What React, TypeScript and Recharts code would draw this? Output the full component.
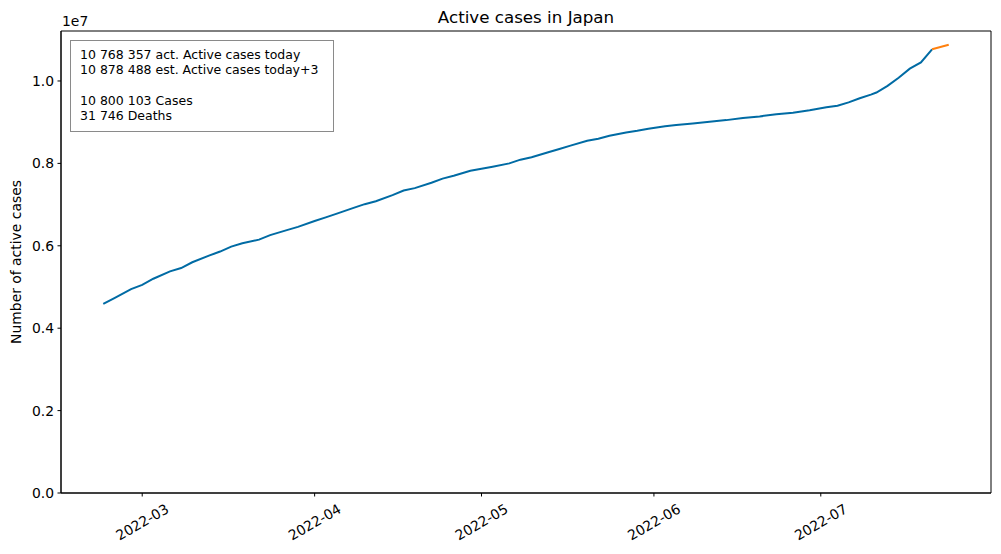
import React from "react";
import { LineChart, Line, XAxis, YAxis, ReferenceArea } from "recharts";

// day index: 0 = 2022-02-22
const activeDays = [0, 2, 5, 7, 9, 12, 14, 16, 19, 21, 23, 25, 28, 30, 33, 35, 38, 40, 42, 45, 47, 49, 52, 54, 56, 59, 61, 63, 66, 68, 70, 73, 75, 77, 80, 82, 84, 87, 89, 91, 94, 96, 98, 101, 103, 106, 109, 112, 115, 118, 121, 124, 127, 130, 132, 134, 136, 138, 139, 141, 143, 145, 147, 149];
const activeValues = [4.59, 4.73, 4.95, 5.05, 5.2, 5.38, 5.46, 5.6, 5.76, 5.86, 5.98, 6.06, 6.15, 6.26, 6.38, 6.46, 6.6, 6.69, 6.78, 6.92, 7.01, 7.08, 7.23, 7.34, 7.4, 7.53, 7.63, 7.7, 7.82, 7.87, 7.92, 8.0, 8.09, 8.15, 8.27, 8.35, 8.43, 8.55, 8.6, 8.67, 8.75, 8.79, 8.84, 8.9, 8.93, 8.97, 9.01, 9.05, 9.1, 9.14, 9.19, 9.23, 9.29, 9.36, 9.4, 9.48, 9.58, 9.67, 9.72, 9.88, 10.08, 10.3, 10.45, 10.768357];
const estDays = [149, 152];
const estValues = [10.768357, 10.878488];

const tickDays = [7, 38, 68, 99, 129];
const tickLabels = ["2022-03", "2022-04", "2022-05", "2022-06", "2022-07"];
const yTicks = [0, 2e6, 4e6, 6e6, 8e6, 1e7];

const infoLines = [
  "10 768 357 act. Active cases today",
  "10 878 488 est. Active cases today+3",
  "",
  "10 800 103 Cases",
  "31 746 Deaths",
];

const activeData = activeDays.map((d, i) => ({ day: d, v: activeValues[i] * 1e6 }));
const estData = estDays.map((d, i) => ({ day: d, v: estValues[i] * 1e6 }));

const FONT = "DejaVu Sans";
const X_MIN = -7.6;
const X_MAX = 159.6;
const Y_MAX = 11213000;

const XTick = (props: any) => {
  const { x, payload } = props;
  const idx = tickDays.indexOf(payload.value);
  const cy = 522;
  return (
    <text
      x={x}
      y={cy}
      textAnchor="middle"
      dominantBaseline="central"
      transform={`rotate(-30, ${x}, ${cy})`}
      fontFamily={FONT}
      fontSize={13.9}
      fill="#000"
    >
      {idx >= 0 ? tickLabels[idx] : ""}
    </text>
  );
};

export default function App() {
  return (
    <div style={{ position: "absolute", left: 0, top: 0, width: 1001, height: 554, background: "#fff", fontFamily: FONT }}>
      <LineChart width={1001} height={554} margin={{ top: 31, right: 10, left: 0, bottom: 0 }}>
        <XAxis
          dataKey="day"
          type="number"
          domain={[X_MIN, X_MAX]}
          ticks={tickDays}
          tick={<XTick />}
          height={61}
          allowDataOverflow
          stroke="#000"
          tickSize={3.5}
          axisLine={{ stroke: "#000", strokeWidth: 1 }}
          tickLine={{ stroke: "#000" }}
        />
        <YAxis
          type="number"
          domain={[0, Y_MAX]}
          ticks={yTicks}
          width={61}
          allowDataOverflow
          tickSize={3.5}
          tickMargin={3.5}
          tickFormatter={(v: number) => (v / 1e7).toFixed(1)}
          tick={{ fill: "#000", fontSize: 13.9, fontFamily: FONT }}
          axisLine={{ stroke: "#000" }}
          tickLine={{ stroke: "#000" }}
        />
        <ReferenceArea x1={X_MIN} x2={X_MAX} y1={0} y2={Y_MAX} fill="none" stroke="#000" strokeWidth={1} />
        <Line data={activeData} dataKey="v" type="linear" stroke="#006BA4" strokeWidth={2} dot={false} isAnimationActive={false} />
        <Line data={estData} dataKey="v" type="linear" stroke="#FF800E" strokeWidth={2} dot={false} isAnimationActive={false} />
      </LineChart>
      <div style={{ position: "absolute", left: 61, width: 930, top: 7, textAlign: "center", fontSize: 16.7, lineHeight: "20px", color: "#000" }}>
        Active cases in Japan
      </div>
      <div style={{ position: "absolute", left: 62, top: 13, fontSize: 13.9, lineHeight: "17px", color: "#000" }}>1e7</div>
      <div
        style={{
          position: "absolute",
          left: 16,
          top: 262,
          transform: "translate(-50%, -50%) rotate(-90deg)",
          whiteSpace: "nowrap",
          fontSize: 13.9,
          color: "#000",
        }}
      >
        Number of active cases
      </div>
      <div
        style={{
          position: "absolute",
          left: 70,
          top: 40,
          width: 264,
          height: 92,
          border: "1px solid #8a8a8a",
          background: "#fff",
          boxSizing: "border-box",
          paddingLeft: 9,
          paddingTop: 6,
          fontSize: 12.5,
          lineHeight: "15.3px",
          color: "#000",
        }}
      >
        {infoLines.map((l, i) => (
          <div key={i} style={{ height: 15.3, whiteSpace: "pre" }}>{l}</div>
        ))}
      </div>
    </div>
  );
}
